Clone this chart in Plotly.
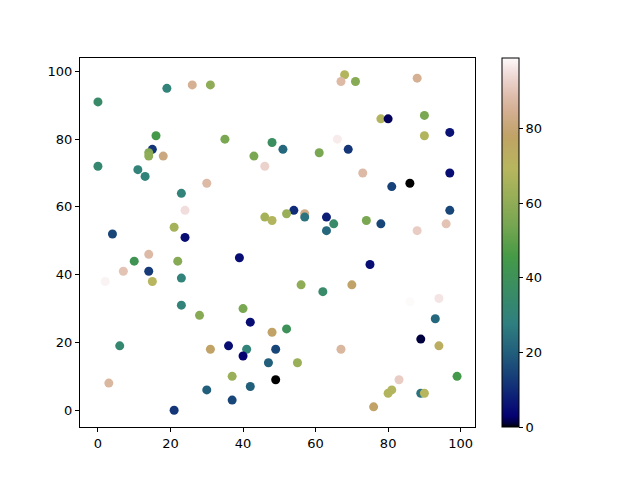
import numpy as np
import plotly.graph_objects as go

# point positions
x = [0, 19, 26, 31, 0, 16, 15, 14, 14, 18, 35, 43, 48, 46, 11, 13, 30, 23, 24, 4,
     21, 24, 46, 48, 68, 67, 71, 88, 78, 80, 90, 97, 90, 66, 51, 69, 61, 73, 97, 86,
     81, 54, 52, 57, 57, 63, 65, 63, 74, 78, 97, 96, 88, 14, 10, 22, 39, 7, 14, 2,
     15, 23, 23, 28, 40, 42, 48, 6, 31, 36, 41, 40, 49, 47, 37, 49, 3, 30, 42, 37,
     21, 75, 56, 62, 70, 86, 94, 93, 52, 89, 94, 67, 55, 83, 81, 80, 89, 90, 99, 76]
y = [91, 95, 96, 96, 72, 81, 77, 76, 75, 75, 80, 75, 79, 72, 71, 69, 67, 64, 59, 52,
     54, 51, 57, 56, 99, 97, 97, 98, 86, 86, 87, 82, 81, 80, 77, 77, 76, 70, 70, 67,
     66, 59, 58, 58, 57, 57, 55, 53, 56, 55, 59, 55, 53, 46, 44, 44, 45, 41, 41, 38,
     38, 39, 31, 28, 30, 26, 23, 19, 18, 19, 18, 16, 18, 14, 10, 9, 8, 6, 7, 3,
     0, 43, 37, 35, 37, 32, 33, 27, 24, 21, 19, 18, 14, 9, 6, 5, 5, 5, 10, 1]
c = [35, 30, 85, 60, 33, 45, 12, 58, 60, 82, 55, 55, 38, 93, 30, 30, 88, 30, 95, 15,
     65, 5, 65, 68, 68, 88, 58, 85, 68, 2, 55, 6, 68, 97, 22, 12, 55, 88, 5, 0,
     14, 10, 62, 83, 25, 8, 35, 22, 55, 15, 15, 90, 92, 88, 42, 58, 5, 90, 13, 98,
     70, 30, 30, 58, 55, 5, 78, 33, 78, 5, 30, 3, 15, 20, 62, 0, 87, 20, 20, 15,
     12, 5, 60, 35, 78, 99, 96, 22, 40, 1, 73, 87, 62, 92, 68, 68, 25, 70, 45, 78]

# matplotlib gist_earth segment data
red = [(0, 0), (0.2824, 0.1882), (0.4588, 0.2714), (0.5490, 0.4719), (0.698, 0.7176),
       (0.7882, 0.7553), (1, 0.9922)]
green = [(0, 0), (0.0275, 0), (0.1098, 0.1893), (0.1647, 0.3035), (0.2078, 0.3841),
         (0.2824, 0.502), (0.5216, 0.6397), (0.698, 0.7171), (0.7882, 0.6392),
         (0.8157, 0.6549), (0.8667, 0.6991), (0.898, 0.743), (0.9412, 0.8275),
         (0.9647, 0.8816), (0.9961, 0.9733), (1, 0.9843)]
blue = [(0, 0), (0.0039, 0.1684), (0.0078, 0.2212), (0.0275, 0.4329), (0.0314, 0.4549),
        (0.2824, 0.5004), (0.4667, 0.2748), (0.5451, 0.3205), (0.7843, 0.3961),
        (0.8941, 0.6651), (1, 0.9843)]


def chan(seg, t):
    return np.interp(t, [p[0] for p in seg], [p[1] for p in seg])


stops = np.linspace(0, 1, 101)
gist_earth = []
for t in stops:
    r, g, b = chan(red, t), chan(green, t), chan(blue, t)
    gist_earth.append([float(t), "rgb(%d,%d,%d)" % (r * 255, g * 255, b * 255)])

fig = go.Figure(go.Scatter(
    x=x, y=y, mode="markers",
    marker=dict(size=9, color=c, colorscale=gist_earth, cmin=0, cmax=99,
                line=dict(width=0),
                colorbar=dict(x=1.068, xanchor="left", y=0.5, yanchor="middle",
                              len=1, lenmode="fraction", thickness=17,
                              xpad=0, ypad=0,
                              outlinewidth=1, outlinecolor="black",
                              ticks="outside", ticklen=4, tickcolor="black",
                              tickvals=[0, 20, 40, 60, 80],
                              tickfont=dict(size=13, color="black"))),
))

axis = dict(showline=True, mirror=True, linecolor="black", linewidth=1,
            ticks="outside", ticklen=4, tickcolor="black", showgrid=False,
            zeroline=False, tickvals=[0, 20, 40, 60, 80, 100],
            tickfont=dict(size=13, color="black"))
fig.update_xaxes(range=[-4.95, 103.95], **axis)
fig.update_yaxes(range=[-4.95, 103.95], **axis)
# the page body adds an 8px offset, so margins are shifted to compensate
fig.update_layout(width=640, height=480, plot_bgcolor="white", paper_bgcolor="white",
                  margin=dict(l=72, r=173, t=50, b=61, autoexpand=False),
                  font=dict(family="DejaVu Sans"), showlegend=False)
fig.write_html("out.html")
